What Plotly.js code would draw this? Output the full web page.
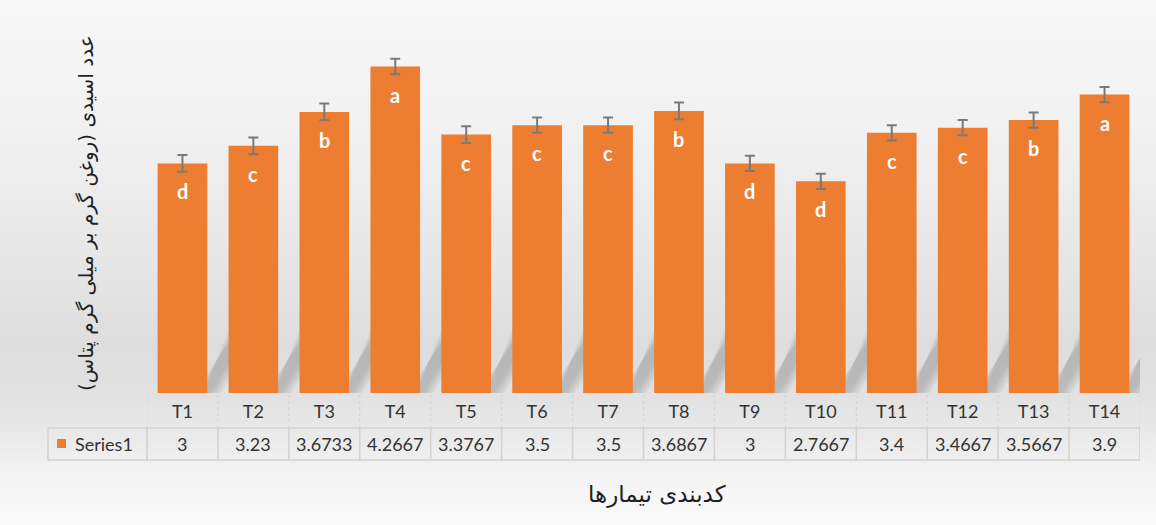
<!DOCTYPE html>
<html>
<head>
<meta charset="utf-8">
<script src="https://cdn.plot.ly/plotly-3.0.1.min.js"></script>
<style>
  html, body { margin: 0; padding: 0; }
  body { width: 1156px; height: 525px; background: #ffffff; }
  #chart {
    width: 1156px; height: 525px;
    background: linear-gradient(to bottom, #f8f8f8 0%, #f1f1f1 25%, #e6e6e6 50%, #dddddd 66%, #e2e2e2 76%, #ebebeb 84%, #f5f5f5 92%, #fafafa 100%);
  }
</style>
</head>
<body>
<div id="chart"></div>
<script>
const categories = ["T1","T2","T3","T4","T5","T6","T7","T8","T9","T10","T11","T12","T13","T14"];
const values = [3, 3.23, 3.6733, 4.2667, 3.3767, 3.5, 3.5, 3.6867, 3, 2.7667, 3.4, 3.4667, 3.5667, 3.9];
const valueLabels = ["3","3.23","3.6733","4.2667","3.3767","3.5","3.5","3.6867","3","2.7667","3.4","3.4667","3.5667","3.9"];
const errors = [0.11, 0.11, 0.11, 0.1, 0.11, 0.1, 0.1, 0.11, 0.1, 0.1, 0.1, 0.1, 0.1, 0.1];
const letters = ["d","c","b","a","c","c","c","b","d","d","c","c","b","a"];
const seriesName = "Series1";
const xTitle = "کدبندی تیمارها";
const yTitle = "عدد اسیدی (روغن گرم بر میلی گرم پتاس)";

const ORANGE = "#ED7D31";
const GRID = "#d2d2d2";
const TXT = "#333333";
const latin = "Lato, 'Liberation Sans', sans-serif";
const persian = "'DejaVu Sans', sans-serif";

// plot area geometry (pixels) used to convert to paper fractions
const plotTop = 41, plotBottom = 393, plotLeft = 147, plotRight = 1140;
const ph = plotBottom - plotTop, pw = plotRight - plotLeft;
const py = px => (plotBottom - px) / ph;
const pxp = px => (px - plotLeft) / pw;

const idx = categories.map((_, i) => i);

const trace = {
  type: "bar",
  x: idx,
  y: values,
  name: seriesName,
  marker: { color: ORANGE, line: { width: 0 } },
  error_y: { type: "data", array: errors, visible: true, color: "#7a7a7a", thickness: 2, width: 5 },
  hoverinfo: "x+y",
  showlegend: false
};

const shapes = [];
const annotations = [];

// soft floor shadows behind bars (3D effect)
idx.forEach(i => {
  for (let k = 0; k < 5; k++) {
    const w = 0.035 * k;
    shapes.push({
      type: "path", xref: "x", yref: "y", layer: "below",
      path: `M ${i + 0.30 - w} 0 L ${i + 0.66 + w} 0.85 L ${i + 0.66 + w} 0.40 L ${i + 0.40 + w} 0 Z`,
      fillcolor: "rgba(90,90,90,0.06)", line: { width: 0 }
    });
  }
});

// table cell borders
const rowTop = py(395), rowMid = py(428), rowBot = py(460);
for (let i = 0; i <= categories.length; i++) {
  shapes.push({ type: "line", xref: "x", yref: "paper", x0: i - 0.5, x1: i - 0.5, y0: rowTop, y1: rowMid,
    line: { color: GRID, width: 1, dash: "dot" } });
  shapes.push({ type: "line", xref: "x", yref: "paper", x0: i - 0.5, x1: i - 0.5, y0: rowMid, y1: rowBot,
    line: { color: GRID, width: 1.5 } });
}
const legLeft = pxp(48);
shapes.push({ type: "line", xref: "paper", yref: "paper", x0: legLeft, x1: 1, y0: rowMid, y1: rowMid, line: { color: GRID, width: 1.5 } });
shapes.push({ type: "line", xref: "paper", yref: "paper", x0: legLeft, x1: 1, y0: rowBot, y1: rowBot, line: { color: GRID, width: 1.5 } });
shapes.push({ type: "line", xref: "paper", yref: "paper", x0: legLeft, x1: legLeft, y0: rowMid, y1: rowBot, line: { color: GRID, width: 1.5 } });
shapes.push({ type: "line", xref: "paper", yref: "paper", x0: 0, x1: 0, y0: rowMid, y1: rowBot, line: { color: GRID, width: 1.5 } });
// legend key
shapes.push({ type: "rect", xref: "paper", yref: "paper", x0: pxp(57), x1: pxp(66), y0: py(439), y1: py(448),
  fillcolor: ORANGE, line: { width: 0 } });

annotations.push({ xref: "paper", yref: "paper", x: pxp(73), y: py(444), xanchor: "left", yanchor: "middle",
  text: seriesName, showarrow: false, font: { family: latin, size: 18, color: TXT } });

// value row
idx.forEach(i => {
  annotations.push({ xref: "x", yref: "paper", x: i, y: py(444), xanchor: "center", yanchor: "middle",
    text: valueLabels[i], showarrow: false, font: { family: latin, size: 18, color: TXT } });
  // significance letters inside bars
  annotations.push({ xref: "x", yref: "y", x: i, y: values[i], yshift: -28, xanchor: "center", yanchor: "middle",
    text: "<b>" + letters[i] + "</b>", showarrow: false, font: { family: latin, size: 20, color: "#ffffff" } });
});

// axis titles
annotations.push({ xref: "paper", yref: "paper", x: pxp(657), y: py(494), xanchor: "center", yanchor: "middle",
  text: xTitle, showarrow: false, font: { family: persian, size: 23, color: "#1f1f1f" } });
annotations.push({ xref: "paper", yref: "paper", x: pxp(86), y: py(213), xanchor: "center", yanchor: "middle",
  textangle: -90, text: yTitle, showarrow: false, font: { family: persian, size: 20, color: "#1f1f1f" } });

const layout = {
  width: 1156, height: 525,
  margin: { l: plotLeft, r: 1156 - plotRight, t: plotTop, b: 525 - plotBottom, pad: 0 },
  paper_bgcolor: "rgba(0,0,0,0)",
  plot_bgcolor: "rgba(0,0,0,0)",
  bargap: 0.3,
  xaxis: {
    range: [-0.5, categories.length - 0.5],
    tickmode: "array", tickvals: idx, ticktext: categories,
    showgrid: false, zeroline: false, showline: false, ticks: "",
    ticklabelstandoff: 6,
    tickfont: { family: latin, size: 18, color: TXT },
    fixedrange: true
  },
  yaxis: {
    range: [0, 4.6],
    showgrid: false, zeroline: false, showline: false, showticklabels: false, ticks: "",
    fixedrange: true
  },
  shapes: shapes,
  annotations: annotations,
  showlegend: false
};

Plotly.newPlot("chart", [trace], layout, { displayModeBar: false, staticPlot: true });
</script>
</body>
</html>
